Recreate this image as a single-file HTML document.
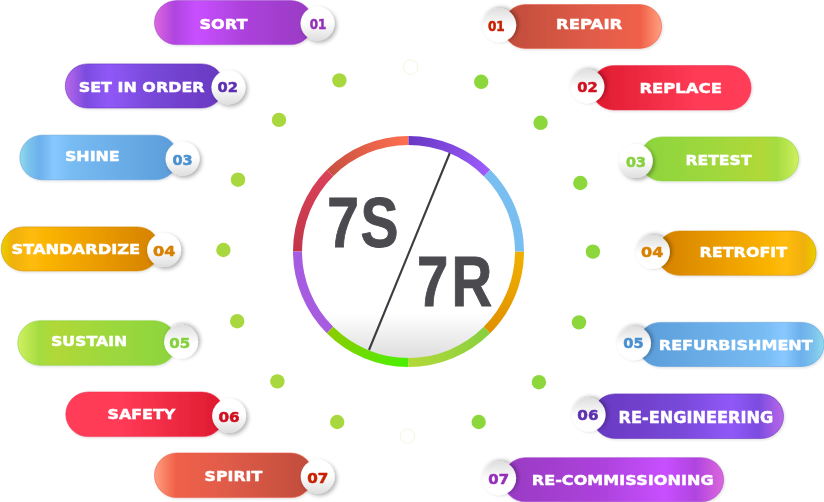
<!DOCTYPE html>
<html lang="en"><head><meta charset="utf-8"><title>7S / 7R</title>
<style>html,body{margin:0;padding:0;background:#fff;overflow:hidden}svg{display:block}text{font-weight:bold}</style>
</head><body>
<svg width="824" height="502" viewBox="0 0 824 502">
<defs>
<linearGradient id="gmagL" x1="0" y1="0" x2="1" y2="0"><stop offset="0" stop-color="#dc68dc"/><stop offset="0.127" stop-color="#b044e0"/><stop offset="0.266" stop-color="#c850ff"/><stop offset="0.55" stop-color="#ad42dc"/><stop offset="1" stop-color="#983ac2"/></linearGradient>
<linearGradient id="gmagR" x1="1" y1="0" x2="0" y2="0"><stop offset="0" stop-color="#dc68dc"/><stop offset="0.127" stop-color="#b044e0"/><stop offset="0.266" stop-color="#c850ff"/><stop offset="0.55" stop-color="#ad42dc"/><stop offset="1" stop-color="#983ac2"/></linearGradient>
<linearGradient id="gvioL" x1="0" y1="0" x2="1" y2="0"><stop offset="0" stop-color="#b868e8"/><stop offset="0.13" stop-color="#7c4ce0"/><stop offset="0.274" stop-color="#9058f8"/><stop offset="0.55" stop-color="#7848d8"/><stop offset="1" stop-color="#6838c0"/></linearGradient>
<linearGradient id="gvioR" x1="1" y1="0" x2="0" y2="0"><stop offset="0" stop-color="#b868e8"/><stop offset="0.13" stop-color="#7c4ce0"/><stop offset="0.274" stop-color="#9058f8"/><stop offset="0.55" stop-color="#7848d8"/><stop offset="1" stop-color="#6838c0"/></linearGradient>
<linearGradient id="gbluL" x1="0" y1="0" x2="1" y2="0"><stop offset="0" stop-color="#90dcec"/><stop offset="0.05" stop-color="#7cc4ec"/><stop offset="0.126" stop-color="#6cb0ec"/><stop offset="0.215" stop-color="#88c8ff"/><stop offset="0.32" stop-color="#78bcf4"/><stop offset="1" stop-color="#5a9cd8"/></linearGradient>
<linearGradient id="gbluR" x1="1" y1="0" x2="0" y2="0"><stop offset="0" stop-color="#90dcec"/><stop offset="0.05" stop-color="#7cc4ec"/><stop offset="0.126" stop-color="#6cb0ec"/><stop offset="0.215" stop-color="#88c8ff"/><stop offset="0.32" stop-color="#78bcf4"/><stop offset="1" stop-color="#5a9cd8"/></linearGradient>
<linearGradient id="gorgL" x1="0" y1="0" x2="1" y2="0"><stop offset="0" stop-color="#e8d000"/><stop offset="0.075" stop-color="#f0b008"/><stop offset="0.187" stop-color="#ffbc08"/><stop offset="0.5" stop-color="#f0a400"/><stop offset="1" stop-color="#d48000"/></linearGradient>
<linearGradient id="gorgR" x1="1" y1="0" x2="0" y2="0"><stop offset="0" stop-color="#e8d000"/><stop offset="0.075" stop-color="#f0b008"/><stop offset="0.187" stop-color="#ffbc08"/><stop offset="0.5" stop-color="#f0a400"/><stop offset="1" stop-color="#d48000"/></linearGradient>
<linearGradient id="ggrnL" x1="0" y1="0" x2="1" y2="0"><stop offset="0" stop-color="#d0f060"/><stop offset="0.137" stop-color="#a4dc40"/><stop offset="0.23" stop-color="#b0d838"/><stop offset="0.6" stop-color="#9cd83c"/><stop offset="1" stop-color="#8cd43c"/></linearGradient>
<linearGradient id="ggrnR" x1="1" y1="0" x2="0" y2="0"><stop offset="0" stop-color="#d0f060"/><stop offset="0.137" stop-color="#a4dc40"/><stop offset="0.23" stop-color="#b0d838"/><stop offset="0.6" stop-color="#9cd83c"/><stop offset="1" stop-color="#8cd43c"/></linearGradient>
<linearGradient id="gredL" x1="0" y1="0" x2="1" y2="0"><stop offset="0" stop-color="#ff3c58"/><stop offset="0.35" stop-color="#ff3a56"/><stop offset="1" stop-color="#de1a2e"/></linearGradient>
<linearGradient id="gredR" x1="1" y1="0" x2="0" y2="0"><stop offset="0" stop-color="#ff3c58"/><stop offset="0.35" stop-color="#ff3a56"/><stop offset="1" stop-color="#de1a2e"/></linearGradient>
<linearGradient id="gcorL" x1="0" y1="0" x2="1" y2="0"><stop offset="0" stop-color="#ffa080"/><stop offset="0.135" stop-color="#f06048"/><stop offset="0.44" stop-color="#e05c48"/><stop offset="1" stop-color="#c04c3c"/></linearGradient>
<linearGradient id="gcorR" x1="1" y1="0" x2="0" y2="0"><stop offset="0" stop-color="#ffa080"/><stop offset="0.135" stop-color="#f06048"/><stop offset="0.44" stop-color="#e05c48"/><stop offset="1" stop-color="#c04c3c"/></linearGradient>
<linearGradient id="gc" x1="0" y1="0" x2="0" y2="1"><stop offset="0" stop-color="#fff"/><stop offset="0.45" stop-color="#fff"/><stop offset="1" stop-color="#dedede"/></linearGradient>
<linearGradient id="gcf" x1="0" y1="1" x2="0" y2="0"><stop offset="0" stop-color="#fff"/><stop offset="0.45" stop-color="#fff"/><stop offset="1" stop-color="#dedede"/></linearGradient>
<filter id="shf" x="-40%" y="-40%" width="180%" height="180%"><feGaussianBlur in="SourceAlpha" stdDeviation="2.2"/><feOffset dx="2.2" dy="-0.8"/><feComponentTransfer><feFuncA type="linear" slope="0.32"/></feComponentTransfer><feMerge><feMergeNode/><feMergeNode in="SourceGraphic"/></feMerge></filter>
<linearGradient id="gdisc" x1="0" y1="0" x2="0" y2="1"><stop offset="0" stop-color="#fff"/><stop offset="0.78" stop-color="#fff"/><stop offset="1" stop-color="#dadada"/></linearGradient>
<filter id="sh" x="-40%" y="-40%" width="180%" height="180%"><feGaussianBlur in="SourceAlpha" stdDeviation="2.2"/><feOffset dx="2" dy="2"/><feComponentTransfer><feFuncA type="linear" slope="0.32"/></feComponentTransfer><feMerge><feMergeNode/><feMergeNode in="SourceGraphic"/></feMerge></filter>
<filter id="shp" x="-10%" y="-20%" width="120%" height="150%"><feGaussianBlur in="SourceAlpha" stdDeviation="1.6"/><feOffset dx="0.5" dy="1"/><feComponentTransfer><feFuncA type="linear" slope="0.14"/></feComponentTransfer><feMerge><feMergeNode/><feMergeNode in="SourceGraphic"/></feMerge></filter>
<linearGradient id="rg0" gradientUnits="userSpaceOnUse" x1="408.5" y1="140.5" x2="330.0" y2="173.0"><stop offset="0" stop-color="#ff7050"/><stop offset="1" stop-color="#c85040"/></linearGradient>
<linearGradient id="rg1" gradientUnits="userSpaceOnUse" x1="330.0" y1="173.0" x2="297.5" y2="251.5"><stop offset="0" stop-color="#da4259"/><stop offset="1" stop-color="#c23648"/></linearGradient>
<linearGradient id="rg2" gradientUnits="userSpaceOnUse" x1="297.5" y1="251.5" x2="330.0" y2="330.0"><stop offset="0" stop-color="#a45ce0"/><stop offset="1" stop-color="#a85ce0"/></linearGradient>
<linearGradient id="rg3" gradientUnits="userSpaceOnUse" x1="330.0" y1="330.0" x2="408.5" y2="362.5"><stop offset="0" stop-color="#8ccc00"/><stop offset="1" stop-color="#48f000"/></linearGradient>
<linearGradient id="rg4" gradientUnits="userSpaceOnUse" x1="408.5" y1="362.5" x2="487.0" y2="330.0"><stop offset="0" stop-color="#b4d838"/><stop offset="1" stop-color="#88d040"/></linearGradient>
<linearGradient id="rg5" gradientUnits="userSpaceOnUse" x1="487.0" y1="330.0" x2="519.5" y2="251.5"><stop offset="0" stop-color="#e09000"/><stop offset="1" stop-color="#f0b000"/></linearGradient>
<linearGradient id="rg6" gradientUnits="userSpaceOnUse" x1="519.5" y1="251.5" x2="487.0" y2="173.0"><stop offset="0" stop-color="#78bef0"/><stop offset="1" stop-color="#78bef0"/></linearGradient>
<linearGradient id="rg7" gradientUnits="userSpaceOnUse" x1="487.0" y1="173.0" x2="408.5" y2="140.5"><stop offset="0" stop-color="#9c5cfc"/><stop offset="1" stop-color="#6838c4"/></linearGradient>
<filter id="n" filterUnits="userSpaceOnUse" x="0" y="0" width="824" height="502"><feOffset dx="0" dy="0"/></filter>
</defs>
<rect width="824" height="502" fill="#fff"/>
<circle cx="339.4" cy="80.4" r="7.2" fill="#a8d83e"/>
<circle cx="279" cy="119.9" r="7.2" fill="#a8d83e"/>
<circle cx="238" cy="179.7" r="7.2" fill="#a8d83e"/>
<circle cx="223.4" cy="250" r="7.2" fill="#a8d83e"/>
<circle cx="237.2" cy="321.2" r="7.2" fill="#a8d83e"/>
<circle cx="277.4" cy="381.4" r="7.2" fill="#a8d83e"/>
<circle cx="337.2" cy="422" r="7.2" fill="#a8d83e"/>
<circle cx="481.2" cy="81.8" r="7.2" fill="#8cd83c"/>
<circle cx="540.6" cy="122.8" r="7.2" fill="#8cd83c"/>
<circle cx="580.3" cy="183" r="7.2" fill="#8cd83c"/>
<circle cx="592.9" cy="251.6" r="7.2" fill="#8cd83c"/>
<circle cx="579" cy="322.4" r="7.2" fill="#8cd83c"/>
<circle cx="538.9" cy="382.2" r="7.2" fill="#8cd83c"/>
<circle cx="478.7" cy="422" r="7.2" fill="#8cd83c"/>
<circle cx="410.5" cy="67.1" r="7.2" fill="none" stroke="#eaf5cf" stroke-width="0.7"/>
<circle cx="407.5" cy="436.2" r="7.2" fill="none" stroke="#eaf5cf" stroke-width="0.7"/>
<circle cx="408.5" cy="251.5" r="111.0" fill="url(#gdisc)"/>
<path d="M408.50 140.50A111.0 111.0 0 0 0 330.01 173.01" fill="none" stroke="url(#rg0)" stroke-width="9.0"/>
<path d="M330.01 173.01A111.0 111.0 0 0 0 297.50 251.50" fill="none" stroke="url(#rg1)" stroke-width="9.0"/>
<path d="M297.50 251.50A111.0 111.0 0 0 0 330.01 329.99" fill="none" stroke="url(#rg2)" stroke-width="9.0"/>
<path d="M330.01 329.99A111.0 111.0 0 0 0 408.50 362.50" fill="none" stroke="url(#rg3)" stroke-width="9.0"/>
<path d="M408.50 362.50A111.0 111.0 0 0 0 486.99 329.99" fill="none" stroke="url(#rg4)" stroke-width="9.0"/>
<path d="M486.99 329.99A111.0 111.0 0 0 0 519.50 251.50" fill="none" stroke="url(#rg5)" stroke-width="9.0"/>
<path d="M519.50 251.50A111.0 111.0 0 0 0 486.99 173.01" fill="none" stroke="url(#rg6)" stroke-width="9.0"/>
<path d="M486.99 173.01A111.0 111.0 0 0 0 408.50 140.50" fill="none" stroke="url(#rg7)" stroke-width="9.0"/>
<line x1="449.8" y1="153.0" x2="369.0" y2="350.0" stroke="#3c3c42" stroke-width="2.1"/>
<g filter="url(#shp)"><rect x="154.5" y="0.6" width="158.4" height="44.0" rx="22.0" fill="url(#gmagL)" stroke="#a040cc" stroke-width="0.7" stroke-opacity="0.8"/></g>
<circle cx="317.5" cy="23.6" r="17" fill="url(#gc)" filter="url(#sh)"/>
<g filter="url(#shp)"><rect x="65.3" y="63.9" width="158.5" height="44.1" rx="22.1" fill="url(#gvioL)" stroke="#6434bc" stroke-width="0.7" stroke-opacity="0.8"/></g>
<circle cx="228.4" cy="87.4" r="17" fill="url(#gc)" filter="url(#sh)"/>
<g filter="url(#shp)"><rect x="19.9" y="135.2" width="158.0" height="44.6" rx="22.3" fill="url(#gbluL)" stroke="#5a9cdc" stroke-width="0.7" stroke-opacity="0.8"/></g>
<circle cx="182.5" cy="158.8" r="17" fill="url(#gc)" filter="url(#sh)"/>
<g filter="url(#shp)"><rect x="1.3" y="226.9" width="158.2" height="44.1" rx="22.0" fill="url(#gorgL)" stroke="#d08810" stroke-width="0.7" stroke-opacity="0.8"/></g>
<circle cx="164.1" cy="250.1" r="17" fill="url(#gc)" filter="url(#sh)"/>
<g filter="url(#shp)"><rect x="17.8" y="320.7" width="158.7" height="44.6" rx="22.3" fill="url(#ggrnL)" stroke="#88d040" stroke-width="0.7" stroke-opacity="0.8"/></g>
<circle cx="181.1" cy="341.8" r="17" fill="url(#gcf)" filter="url(#shf)"/>
<g filter="url(#shp)"><rect x="65.8" y="392" width="158.7" height="44.6" rx="22.3" fill="url(#gredL)" stroke="#f03050" stroke-width="0.7" stroke-opacity="0.8"/></g>
<circle cx="229.1" cy="415.8" r="17" fill="url(#gc)" filter="url(#sh)"/>
<g filter="url(#shp)"><rect x="154.5" y="453" width="158.6" height="44.6" rx="22.3" fill="url(#gcorL)" stroke="#e85c44" stroke-width="0.7" stroke-opacity="0.8"/></g>
<circle cx="317.7" cy="476.6" r="17" fill="url(#gc)" filter="url(#sh)"/>
<g filter="url(#shp)"><rect x="503.2" y="4.6" width="158.4" height="43.8" rx="21.9" fill="url(#gcorR)" stroke="#e85c44" stroke-width="0.7" stroke-opacity="0.8"/></g>
<circle cx="499.2" cy="25.2" r="17" fill="url(#gcf)" filter="url(#shf)"/>
<g filter="url(#shp)"><rect x="591.4" y="65.6" width="159.7" height="44.4" rx="22.2" fill="url(#gredR)" stroke="#f03050" stroke-width="0.7" stroke-opacity="0.8"/></g>
<circle cx="587.4" cy="86.4" r="17" fill="url(#gcf)" filter="url(#shf)"/>
<g filter="url(#shp)"><rect x="639.8" y="136.9" width="158.8" height="44.1" rx="22.0" fill="url(#ggrnR)" stroke="#88d040" stroke-width="0.7" stroke-opacity="0.8"/></g>
<circle cx="635.8" cy="161" r="17" fill="url(#gc)" filter="url(#sh)"/>
<g filter="url(#shp)"><rect x="656.9" y="231" width="159.2" height="44.3" rx="22.2" fill="url(#gorgR)" stroke="#d08810" stroke-width="0.7" stroke-opacity="0.8"/></g>
<circle cx="652.9" cy="252" r="17" fill="url(#gcf)" filter="url(#shf)"/>
<g filter="url(#shp)"><rect x="638.0" y="322.4" width="186.0" height="44.1" rx="22.1" fill="url(#gbluR)" stroke="#5a9cdc" stroke-width="0.7" stroke-opacity="0.8"/></g>
<circle cx="634" cy="343.3" r="17" fill="url(#gcf)" filter="url(#shf)"/>
<g filter="url(#shp)"><rect x="592.6" y="393.9" width="190.9" height="44.6" rx="22.3" fill="url(#gvioR)" stroke="#6434bc" stroke-width="0.7" stroke-opacity="0.8"/></g>
<circle cx="588.6" cy="414.7" r="17" fill="url(#gcf)" filter="url(#shf)"/>
<g filter="url(#shp)"><rect x="503.1" y="457.7" width="220.5" height="44.1" rx="22.1" fill="url(#gmagR)" stroke="#a040cc" stroke-width="0.7" stroke-opacity="0.8"/></g>
<circle cx="499.1" cy="478.2" r="17" fill="url(#gcf)" filter="url(#shf)"/>
<g filter="url(#n)">
<text transform="translate(327.2,246.7) scale(0.82,1)" x="0.0 40.5" y="0" font-family='"Liberation Sans", "DejaVu Sans", sans-serif' font-size="69.5" fill="#4a4a4f" stroke="#4a4a4f" stroke-width="0.9">7S</text>
<text transform="translate(417.0,305.8) scale(0.81,1)" x="0.0 42.6" y="0" font-family='"Liberation Sans", "DejaVu Sans", sans-serif' font-size="69.5" fill="#4a4a4f" stroke="#4a4a4f" stroke-width="0.9">7R</text>
<text x="199.4" y="28.6" font-family='"DejaVu Sans", "Liberation Sans", sans-serif' font-size="14.2" fill="#fff" stroke="#fff" stroke-width="0.45" textLength="48.0" lengthAdjust="spacingAndGlyphs">SORT</text>
<text x="309.8" y="28.5" font-family='"DejaVu Sans", "Liberation Sans", sans-serif' font-size="14.6" fill="#9430b8" stroke="#9430b8" stroke-width="0.55" textLength="16.6" lengthAdjust="spacingAndGlyphs">01</text>
<text x="78.7" y="92.2" font-family='"DejaVu Sans", "Liberation Sans", sans-serif' font-size="14.3" fill="#fff" stroke="#fff" stroke-width="0.45" textLength="125.9" lengthAdjust="spacingAndGlyphs">SET IN ORDER</text>
<text x="217.6" y="92.2" font-family='"DejaVu Sans", "Liberation Sans", sans-serif' font-size="14.6" fill="#5c30b0" stroke="#5c30b0" stroke-width="0.55" textLength="20.4" lengthAdjust="spacingAndGlyphs">02</text>
<text x="64.9" y="160.8" font-family='"DejaVu Sans", "Liberation Sans", sans-serif' font-size="14.6" fill="#fff" stroke="#fff" stroke-width="0.45" textLength="54.8" lengthAdjust="spacingAndGlyphs">SHINE</text>
<text x="172.5" y="164.7" font-family='"DejaVu Sans", "Liberation Sans", sans-serif' font-size="14.6" fill="#4a90d0" stroke="#4a90d0" stroke-width="0.55" textLength="20.2" lengthAdjust="spacingAndGlyphs">03</text>
<text x="11.4" y="254.1" font-family='"DejaVu Sans", "Liberation Sans", sans-serif' font-size="14.5" fill="#fff" stroke="#fff" stroke-width="0.45" textLength="128.7" lengthAdjust="spacingAndGlyphs">STANDARDIZE</text>
<text x="153.0" y="255.7" font-family='"DejaVu Sans", "Liberation Sans", sans-serif' font-size="14.6" fill="#d88000" stroke="#d88000" stroke-width="0.55" textLength="22.4" lengthAdjust="spacingAndGlyphs">04</text>
<text x="50.9" y="345.8" font-family='"DejaVu Sans", "Liberation Sans", sans-serif' font-size="14.6" fill="#fff" stroke="#fff" stroke-width="0.45" textLength="76.4" lengthAdjust="spacingAndGlyphs">SUSTAIN</text>
<text x="169.3" y="347.7" font-family='"DejaVu Sans", "Liberation Sans", sans-serif' font-size="14.6" fill="#88d040" stroke="#88d040" stroke-width="0.55" textLength="20.9" lengthAdjust="spacingAndGlyphs">05</text>
<text x="107.5" y="418.8" font-family='"DejaVu Sans", "Liberation Sans", sans-serif' font-size="14.2" fill="#fff" stroke="#fff" stroke-width="0.45" textLength="67.8" lengthAdjust="spacingAndGlyphs">SAFETY</text>
<text x="218.5" y="421.7" font-family='"DejaVu Sans", "Liberation Sans", sans-serif' font-size="14.6" fill="#d01020" stroke="#d01020" stroke-width="0.55" textLength="21.2" lengthAdjust="spacingAndGlyphs">06</text>
<text x="204.6" y="481.1" font-family='"DejaVu Sans", "Liberation Sans", sans-serif' font-size="14.6" fill="#fff" stroke="#fff" stroke-width="0.45" textLength="57.6" lengthAdjust="spacingAndGlyphs">SPIRIT</text>
<text x="307.3" y="482.7" font-family='"DejaVu Sans", "Liberation Sans", sans-serif' font-size="14.6" fill="#c82000" stroke="#c82000" stroke-width="0.55" textLength="21.1" lengthAdjust="spacingAndGlyphs">07</text>
<text x="556.0" y="28.9" font-family='"DejaVu Sans", "Liberation Sans", sans-serif' font-size="13.9" fill="#fff" stroke="#fff" stroke-width="0.45" textLength="66.3" lengthAdjust="spacingAndGlyphs">REPAIR</text>
<text x="487.9" y="30.5" font-family='"DejaVu Sans", "Liberation Sans", sans-serif' font-size="14.6" fill="#c82000" stroke="#c82000" stroke-width="0.55" textLength="16.8" lengthAdjust="spacingAndGlyphs">01</text>
<text x="639.4" y="92.8" font-family='"DejaVu Sans", "Liberation Sans", sans-serif' font-size="14.5" fill="#fff" stroke="#fff" stroke-width="0.45" textLength="82.5" lengthAdjust="spacingAndGlyphs">REPLACE</text>
<text x="577.3" y="91.7" font-family='"DejaVu Sans", "Liberation Sans", sans-serif' font-size="14.6" fill="#d01020" stroke="#d01020" stroke-width="0.55" textLength="20.4" lengthAdjust="spacingAndGlyphs">02</text>
<text x="685.4" y="165.1" font-family='"DejaVu Sans", "Liberation Sans", sans-serif' font-size="14.2" fill="#fff" stroke="#fff" stroke-width="0.45" textLength="66.2" lengthAdjust="spacingAndGlyphs">RETEST</text>
<text x="625.9" y="166.7" font-family='"DejaVu Sans", "Liberation Sans", sans-serif' font-size="14.6" fill="#88d040" stroke="#88d040" stroke-width="0.55" textLength="20.0" lengthAdjust="spacingAndGlyphs">03</text>
<text x="699.5" y="257.3" font-family='"DejaVu Sans", "Liberation Sans", sans-serif' font-size="14.6" fill="#fff" stroke="#fff" stroke-width="0.45" textLength="87.7" lengthAdjust="spacingAndGlyphs">RETROFIT</text>
<text x="641.1" y="256.7" font-family='"DejaVu Sans", "Liberation Sans", sans-serif' font-size="14.6" fill="#d88000" stroke="#d88000" stroke-width="0.55" textLength="22.3" lengthAdjust="spacingAndGlyphs">04</text>
<text x="658.8" y="349.5" font-family='"DejaVu Sans", "Liberation Sans", sans-serif' font-size="14.5" fill="#fff" stroke="#fff" stroke-width="0.45" textLength="153.9" lengthAdjust="spacingAndGlyphs">REFURBISHMENT</text>
<text x="623.3" y="348.4" font-family='"DejaVu Sans", "Liberation Sans", sans-serif' font-size="14.6" fill="#4a90d0" stroke="#4a90d0" stroke-width="0.55" textLength="20.4" lengthAdjust="spacingAndGlyphs">05</text>
<text x="618.5" y="422.6" font-family='"DejaVu Sans", "Liberation Sans", sans-serif' font-size="15.0" fill="#fff" stroke="#fff" stroke-width="0.45" textLength="154.7" lengthAdjust="spacingAndGlyphs">RE-ENGINEERING</text>
<text x="577.3" y="419.5" font-family='"DejaVu Sans", "Liberation Sans", sans-serif' font-size="14.6" fill="#5c30b0" stroke="#5c30b0" stroke-width="0.55" textLength="21.2" lengthAdjust="spacingAndGlyphs">06</text>
<text x="531.8" y="485.1" font-family='"DejaVu Sans", "Liberation Sans", sans-serif' font-size="14.9" fill="#fff" stroke="#fff" stroke-width="0.45" textLength="181.8" lengthAdjust="spacingAndGlyphs">RE-COMMISSIONING</text>
<text x="488.3" y="483.9" font-family='"DejaVu Sans", "Liberation Sans", sans-serif' font-size="14.6" fill="#9430b8" stroke="#9430b8" stroke-width="0.55" textLength="20.7" lengthAdjust="spacingAndGlyphs">07</text>
</g>
</svg></body></html>
